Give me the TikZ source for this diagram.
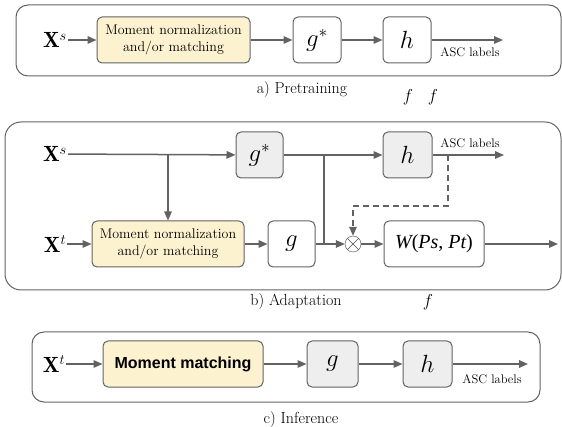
\documentclass[tikz,border=0pt]{standalone}
\usepackage{fontspec}
\newfontfamily\arialfont{Liberation Sans}
\newfontfamily\timesfont{Liberation Serif}
\usetikzlibrary{arrows.meta}
\definecolor{boxyellow}{RGB}{252,242,208}
\definecolor{boxgrey}{RGB}{238,238,238}
\definecolor{linegrey}{RGB}{98,98,98}

\begin{document}
\begin{tikzpicture}
  [x=1pt,y=-1pt,every node/.style={inner sep=1pt},
   blk/.style={draw=linegrey,line width=1pt,rounded corners=5pt,minimum height=46pt,inner sep=0pt,font=\fontsize{26}{26}\selectfont},
   mom/.style={blk,fill=boxyellow,align=center,font=\fontsize{14}{16.5}\selectfont},
   shade/.style={fill=boxgrey},
   xin/.style={font=\fontsize{22}{22}\selectfont},
   conn/.style={draw=linegrey,line width=1.5pt,-{Triangle[length=9pt,width=7.5pt]}},
   link/.style={draw=linegrey,line width=1.5pt},
   dashconn/.style={conn,dashed,dash pattern=on 6pt off 4pt},
   panel/.style={draw=linegrey,line width=1pt,rounded corners=12pt},
   small/.style={font=\fontsize{12.5}{12.5}\selectfont},
   capt/.style={font=\fontsize{16}{16}\selectfont}]

  \useasboundingbox (0,0) rectangle (562,427);

  \draw[panel] (16,5) rectangle (561,76);
  \node[xin] (xsa) at (55,40) {$\mathbf{X}^s$};
  \node[mom,minimum width=153pt] (mna) at (173.5,40) {Moment normalization\\and/or matching};
  \node[blk,minimum width=48pt] (gsa) at (317,40) {$g^*$};
  \node[blk,minimum width=48pt] (ha) at (407,40) {$h$};
  \coordinate (ea) at (503,40);
  \node[small] (la) at (470,52) {ASC labels};
  \node[capt] (ca) at (302,90) {a) Pretraining};
  \node[capt] (fa) at (408,97) {$f$};
  \node[capt] (fb) at (433,97) {$f$};

  \foreach \from/\to in {xsa/mna,mna/gsa,gsa/ha,ha/ea}
    \draw[conn] (\from) -- (\to);

  \draw[panel,rounded corners=16pt] (5,122) rectangle (561,290);
  \node[xin] (xsb) at (55,154) {$\mathbf{X}^s$};
  \node[xin] (xtb) at (55,244) {$\mathbf{X}^t$};
  \node[blk,shade,minimum width=47pt] (gsb) at (259.5,155) {$g^*$};
  \node[blk,shade,minimum width=49pt] (hb) at (407.5,155) {$h$};
  \coordinate (eb) at (504,155);
  \node[small] (lb) at (470,143) {ASC labels};
  \node[mom,minimum width=152pt] (mnb) at (168,244) {Moment normalization\\and/or matching};
  \node[blk,minimum width=47pt] (gb) at (291.5,244) {$g$};
  \node[circle,draw=black!70,minimum size=16pt,inner sep=0pt,
        path picture={\draw[black!70] (path picture bounding box.north west) -- (path picture bounding box.south east)
                      (path picture bounding box.north east) -- (path picture bounding box.south west);}] (ot) at (353,244) {};
  \node[blk,minimum width=100pt,font=\fontsize{20}{20}\timesfont\itshape] (wb) at (434,244) {W\upshape(\itshape Ps\upshape, \itshape Pt\upshape)};
  \coordinate (wend) at (558,244);
  \coordinate (jb) at (324,155);
  \coordinate (db) at (448,155);
  \coordinate (dk) at (448,206);
  \node[capt] (cb) at (296,302) {b) Adaptation};
  \node[capt] (fc) at (428,302) {$f$};

  \foreach \from/\to in {xsb/gsb,gsb/hb,hb/eb,xtb/mnb,mnb/gb,ot/wb,wb/wend}
    \draw[conn] (\from) -- (\to);
  \draw[conn] (mnb |- xsb) -- (mnb);
  \draw[link] (jb) -- (jb |- gb);
  \draw[conn] (gb) -- (ot);
  \draw[dashconn] (db) -- (dk) -| (ot);

  \draw[panel] (32,332) rectangle (540,402);
  \node[xin] (xtc) at (54,364) {$\mathbf{X}^t$};
  \node[mom,minimum width=160pt,font=\fontsize{16}{16}\arialfont\bfseries] (mmc) at (183,364) {Moment matching};
  \node[blk,shade,minimum width=51pt] (gc) at (332.5,364) {$g$};
  \node[blk,shade,minimum width=49pt] (hc) at (427.5,364) {$h$};
  \coordinate (ec) at (528,364);
  \node[small] (lc) at (492,379) {ASC labels};
  \node[capt] (cc) at (301,420) {c) Inference};

  \foreach \from/\to in {xtc/mmc,mmc/gc,gc/hc,hc/ec}
    \draw[conn] (\from) -- (\to);
\end{tikzpicture}
\end{document}
